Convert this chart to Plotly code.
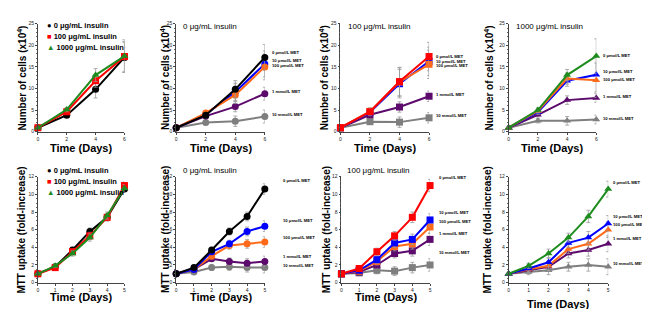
import plotly.graph_objects as go

# ---------------- data ----------------
days_cells = [0, 2, 4, 6]
days_mtt = [0, 1, 2, 3, 4, 5]

insulin_names = ["0 μg/mL insulin", "100 μg/mL insulin", "1000 μg/mL insulin"]
met_names = ["0 μmol/L MET", "10 μmol/L MET", "100 μmol/L MET", "1 mmol/L MET", "10 mmol/L MET"]

# Panel 1: cells vs insulin
cells_ins_0 = [0.9, 3.8, 9.8, 17.2]
cells_ins_100 = [0.9, 4.6, 11.8, 17.4]
cells_ins_1000 = [0.9, 5.1, 13.1, 17.5]
cells_ins_err_0 = [0.2, 0.5, 2.0, 3.5]
cells_ins_err_100 = [0.2, 0.5, 1.5, 3.5]
cells_ins_err_1000 = [0.2, 0.5, 1.5, 3.8]

# Panel 2: cells, 0 insulin, MET doses
cells0_met0 = [0.9, 3.8, 9.8, 17.2]
cells0_met10 = [0.9, 4.0, 9.2, 15.7]
cells0_met100 = [0.9, 4.3, 8.5, 15.0]
cells0_met1m = [0.9, 3.6, 5.8, 8.8]
cells0_met10m = [0.9, 2.1, 2.4, 3.5]
cells0_err = [0.2, 0.6, 2.0, 3.0]
cells0_err_low = [0.2, 0.5, 1.2, 1.5]

# Panel 3: cells, 100 insulin
cells100_met0 = [0.9, 4.6, 11.6, 17.4]
cells100_met10 = [0.9, 4.5, 11.1, 16.3]
cells100_met100 = [0.9, 4.7, 11.5, 15.6]
cells100_met1m = [0.9, 3.9, 5.7, 8.2]
cells100_met10m = [0.9, 2.3, 2.2, 3.2]
cells100_err = [0.2, 0.8, 3.3, 3.3]
cells100_err_low = [0.2, 0.6, 1.2, 1.2]

# Panel 4: cells, 1000 insulin
cells1000_met0 = [0.9, 5.0, 13.1, 17.5]
cells1000_met10 = [0.9, 4.5, 11.8, 13.2]
cells1000_met100 = [0.9, 4.8, 12.3, 11.9]
cells1000_met1m = [0.9, 3.9, 7.3, 7.8]
cells1000_met10m = [0.9, 2.5, 2.5, 2.8]
cells1000_err = [0.2, 0.5, 1.3, 4.0]
cells1000_err_low = [0.2, 0.5, 1.0, 1.0]

# Panel 5: MTT vs insulin
mtt_ins_0 = [1.0, 1.8, 3.7, 5.8, 7.4, 10.6]
mtt_ins_100 = [1.0, 1.7, 3.5, 5.3, 7.4, 11.0]
mtt_ins_1000 = [1.0, 1.9, 3.3, 5.1, 7.6, 10.7]
mtt_ins_err = [0.1, 0.2, 0.3, 0.4, 0.4, 0.4]

# Panel 6: MTT, 0 insulin
mtt0_met0 = [1.0, 1.7, 3.7, 5.8, 7.5, 10.6]
mtt0_met10 = [1.0, 1.5, 3.5, 4.4, 5.8, 6.4]
mtt0_met100 = [1.0, 1.5, 3.0, 4.2, 4.4, 4.6]
mtt0_met1m = [1.0, 1.5, 2.7, 2.4, 2.2, 2.4]
mtt0_met10m = [1.0, 1.2, 1.7, 1.8, 1.7, 1.7]
mtt0_err = [0.1, 0.2, 0.3, 0.4, 0.5, 0.6]

# Panel 7: MTT, 100 insulin
mtt100_met0 = [1.0, 1.6, 3.5, 5.3, 7.4, 11.0]
mtt100_met10 = [1.0, 1.4, 2.6, 4.5, 4.9, 7.1]
mtt100_met100 = [1.0, 1.3, 2.4, 4.1, 4.4, 6.3]
mtt100_met1m = [1.0, 1.2, 2.0, 3.3, 3.6, 4.9]
mtt100_met10m = [1.0, 1.1, 1.4, 1.3, 1.7, 2.0]
mtt100_err = [0.1, 0.3, 0.4, 0.5, 0.6, 0.7]

# Panel 8: MTT, 1000 insulin
mtt1000_met0 = [1.0, 1.9, 3.3, 5.1, 7.5, 10.6]
mtt1000_met10 = [1.0, 1.6, 2.3, 4.5, 5.1, 6.7]
mtt1000_met100 = [1.0, 1.5, 1.9, 3.8, 4.4, 6.0]
mtt1000_met1m = [1.0, 1.4, 1.8, 3.3, 3.7, 4.4]
mtt1000_met10m = [1.0, 1.2, 1.4, 1.8, 2.0, 1.8]
mtt1000_err = [0.1, 0.3, 0.5, 0.5, 0.7, 0.9]

cells_ticks = [0, 5, 10, 15, 20, 25]
cells_xticks = [0, 2, 4, 6]
mtt_ticks = [0, 2, 4, 6, 8, 10, 12]
mtt_xticks = [0, 1, 2, 3, 4, 5]

# ---------------- styles ----------------
W, H = 650, 309
BLACK = "#000000"
RED = "#ff0000"
GREEN = "#1e8c1e"
BLUE = "#0000ff"
ORANGE = "#ff6a1a"
PURPLE = "#5c0a6c"
GRAY = "#7f7f7f"
FONT = "Liberation Sans, Arial, sans-serif"

# panel pixel boxes: (left, right, top, bottom)
boxes = [
    (29, 116, 13, 123),
    (168, 257, 13, 123),
    (333, 422, 13, 123),
    (502, 590, 13, 123),
    (29, 116, 169, 277),
    (168, 257, 169, 277),
    (334, 423, 169, 277),
    (502, 602, 169, 277),
]
xtitle_gap = [17, 17, 17, 17, 15, 15, 15, 22]

fig = go.Figure()


def add_series(i, x, y, err, color, symbol, size=7):
    xa = "x" if i == 1 else f"x{i}"
    ya = "y" if i == 1 else f"y{i}"
    fig.add_trace(go.Scatter(
        x=x, y=y, xaxis=xa, yaxis=ya, mode="lines+markers",
        line=dict(color=color, width=2),
        marker=dict(color=color, symbol=symbol, size=size),
        error_y=dict(type="data", array=err, color="#9a9a9a", thickness=0.8, width=2),
        cliponaxis=False, showlegend=False, hoverinfo="skip"))


# Panel 1
add_series(1, days_cells, cells_ins_0, cells_ins_err_0, BLACK, "circle")
add_series(1, days_cells, cells_ins_100, cells_ins_err_100, RED, "square")
add_series(1, days_cells, cells_ins_1000, cells_ins_err_1000, GREEN, "triangle-up")

# Panel 2-4
panels_cells = [
    (2, [cells0_met10m, cells0_met1m, cells0_met10, cells0_met100, cells0_met0], BLACK, "circle", cells0_err, cells0_err_low),
    (3, [cells100_met10m, cells100_met1m, cells100_met10, cells100_met100, cells100_met0], RED, "square", cells100_err, cells100_err_low),
    (4, [cells1000_met10m, cells1000_met1m, cells1000_met10, cells1000_met100, cells1000_met0], GREEN, "triangle-up", cells1000_err, cells1000_err_low),
]
for i, series, c0, sym, err_hi, err_lo in panels_cells:
    cols = [GRAY, PURPLE, BLUE, ORANGE, c0]
    errs = [err_lo, err_lo, err_hi, err_hi, err_hi]
    for s, c, e in zip(series, cols, errs):
        add_series(i, days_cells, s, e, c, sym)

# Panel 5
add_series(5, days_mtt, mtt_ins_0, mtt_ins_err, BLACK, "circle")
add_series(5, days_mtt, mtt_ins_100, mtt_ins_err, RED, "square")
add_series(5, days_mtt, mtt_ins_1000, mtt_ins_err, GREEN, "triangle-up")

panels_mtt = [
    (6, [mtt0_met10m, mtt0_met1m, mtt0_met100, mtt0_met10, mtt0_met0], BLACK, "circle", mtt0_err),
    (7, [mtt100_met10m, mtt100_met1m, mtt100_met100, mtt100_met10, mtt100_met0], RED, "square", mtt100_err),
    (8, [mtt1000_met10m, mtt1000_met1m, mtt1000_met100, mtt1000_met10, mtt1000_met0], GREEN, "triangle-up", mtt1000_err),
]
for i, series, c0, sym, err in panels_mtt:
    cols = [GRAY, PURPLE, ORANGE, BLUE, c0]
    for s, c in zip(series, cols):
        add_series(i, days_mtt, s, err, c, sym)

# ---------------- axes ----------------
layout = dict(
    width=W, height=H, margin=dict(l=0, r=0, t=0, b=0),
    paper_bgcolor="white", plot_bgcolor="white",
    font=dict(family=FONT, color="black"),
)
for idx, (l, r, t, b) in enumerate(boxes, start=1):
    xk = "xaxis" if idx == 1 else f"xaxis{idx}"
    yk = "yaxis" if idx == 1 else f"yaxis{idx}"
    ya = "y" if idx == 1 else f"y{idx}"
    xa = "x" if idx == 1 else f"x{idx}"
    top_row = idx <= 4
    common = dict(showline=True, linecolor="#444", linewidth=0.8, ticks="outside",
                  ticklen=2, tickwidth=0.8, tickcolor="#444", showgrid=False,
                  zeroline=False, tickfont=dict(size=5, family=FONT, color="#222"))
    layout[xk] = dict(domain=[l / W, r / W], anchor=ya,
                      range=[0, 6] if top_row else [0, 5],
                      tickvals=cells_xticks if top_row else mtt_xticks, **common)
    layout[yk] = dict(domain=[1 - b / H, 1 - t / H], anchor=xa,
                      range=[0, 25] if top_row else [0, 12],
                      tickvals=cells_ticks if top_row else mtt_ticks,
                      minor=dict(ticks="outside", ticklen=1, tickcolor="#666", dtick=1 if top_row else 0.5),
                      **common)
fig.update_layout(**layout)

ann = []
# axis titles
ytitle_x = [13, 156, 316, 482, 13, 157, 319, 481]
for idx, (l, r, t, b) in enumerate(boxes, start=1):
    top_row = idx <= 4
    ann.append(dict(text="<b>Number of cells (x10<sup>4</sup>)</b>" if top_row else "<b>MTT uptake (fold-increase)</b>",
                    xref="paper", yref="paper", x=ytitle_x[idx - 1] / W, y=1 - ((t + b) / 2) / H,
                    textangle=-90, showarrow=False, font=dict(size=10, family=FONT),
                    xanchor="center", yanchor="middle"))
    ann.append(dict(text="<b>Time (Days)</b>", xref="paper", yref="paper",
                    x=((l + r) / 2) / W, y=1 - (b + xtitle_gap[idx - 1]) / H, showarrow=False,
                    font=dict(size=11, family=FONT), xanchor="center", yanchor="middle"))

# legends in panels 1 and 5
sym_chars = [("●", BLACK), ("■", RED), ("▲", GREEN)]
for base_y in (15, 163):
    for k, ((ch, col), name) in enumerate(zip(sym_chars, insulin_names)):
        ann.append(dict(text=f"<span style='color:{col}'>{ch}</span> <b>{name}</b>",
                        xref="paper", yref="paper", x=36 / W, y=1 - (base_y + k * 11) / H,
                        showarrow=False, font=dict(size=7.5, family=FONT),
                        xanchor="left", yanchor="middle"))

# panel titles
titles = [(173, 16, insulin_names[0]), (339, 16, insulin_names[1]), (507, 16, insulin_names[2]),
          (173, 163, insulin_names[0]), (338, 163, insulin_names[1])]
for px, py, name in titles:
    ann.append(dict(text=name, xref="paper", yref="paper", x=px / W, y=1 - py / H,
                    showarrow=False, font=dict(size=8, family=FONT),
                    xanchor="left", yanchor="middle"))

# end labels (pixel offsets relative to last point)
end_label_panels = [
    (2, days_cells, [cells0_met0, cells0_met10, cells0_met100, cells0_met1m, cells0_met10m], [5, 3, 1, 2, 2], 5),
    (3, days_cells, [cells100_met0, cells100_met10, cells100_met100, cells100_met1m, cells100_met10m], [0, 0, -1, 2, 2], 5),
    (4, days_cells, [cells1000_met0, cells1000_met10, cells1000_met100, cells1000_met1m, cells1000_met10m], [1, 3, 1, 1, 1], 5),
    (6, days_mtt, [mtt0_met0, mtt0_met10, mtt0_met100, mtt0_met1m, mtt0_met10m], [9, 6, 5, 5, 2], 16),
    (7, days_mtt, [mtt100_met0, mtt100_met10, mtt100_met100, mtt100_met1m, mtt100_met10m], [8, 7, 6, 6, 12], 7),
    (8, days_mtt, [mtt1000_met0, mtt1000_met10, mtt1000_met100, mtt1000_met1m, mtt1000_met10m], [7, 7, 5, 5, 3], 3),
]
for i, xs, series, shifts, xs_shift in end_label_panels:
    for name, s, sh in zip(met_names, series, shifts):
        ann.append(dict(text=f"<b>{name}</b>", xref=f"x{i}", yref=f"y{i}", x=xs[-1], y=s[-1],
                        xshift=xs_shift, yshift=sh, showarrow=False,
                        font=dict(size=4.2, family=FONT), xanchor="left", yanchor="middle"))

fig.update_layout(annotations=ann)
fig.write_html("out.html")
